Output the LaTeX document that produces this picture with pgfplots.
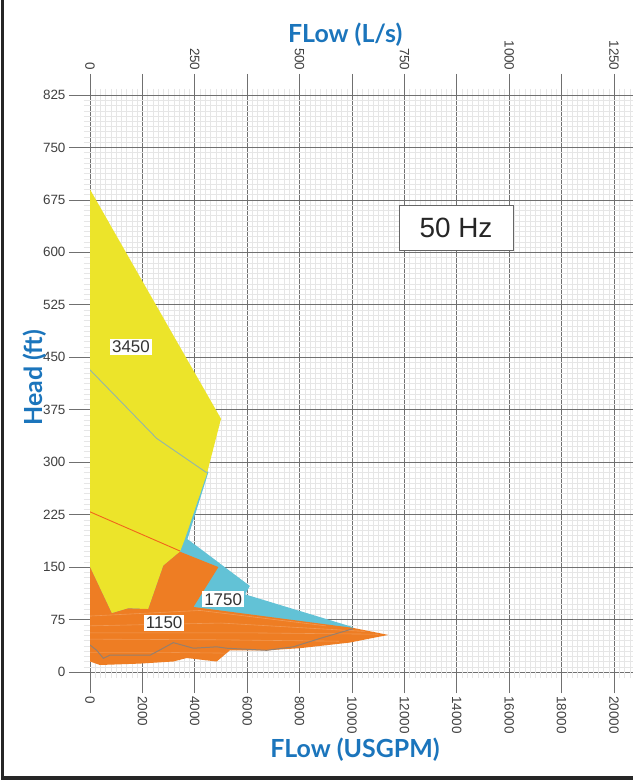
\documentclass[border=0pt]{standalone}
\usepackage{fontspec}
\setmainfont{Liberation Sans}
\newfontfamily\titlefont{Lato}
\usepackage{pgfplots}
\pgfplotsset{compat=1.18}
\pgfkeys{/pgf/number format/.cd, 1000 sep={}, assume math mode=true}
\definecolor{cyanc}{HTML}{62C2D6}
\definecolor{yel}{HTML}{ECE42A}
\definecolor{ora}{HTML}{EE7D23}
\definecolor{titleblue}{HTML}{1B75BC}
\definecolor{majgrid}{HTML}{707070}
\definecolor{mingrid}{HTML}{E6E6E6}
\definecolor{ticktext}{HTML}{404040}
\definecolor{innercyan}{HTML}{92B5AC}
\begin{document}
\begin{tikzpicture}
\useasboundingbox (0,0) rectangle (633bp,783bp);
\fill[white] (0,0) rectangle (633bp,783bp);
\draw[line width=3.5bp, color=black!85] (2.5bp,783bp) -- (2.5bp,5bp) -- (633bp,5bp);
\begin{axis}[
  at={(90bp,111bp)}, anchor=south west,
  width=543bp, height=577bp, scale only axis,
  xmin=0, xmax=20725, ymin=0, ymax=825,
  xtick={0,2000,...,22000}, ytick={0,75,...,825},
  scaled x ticks=false, scaled y ticks=false,
  minor x tick num=9, minor y tick num=9,
  grid=both,
  major grid style={color=majgrid, line width=0.7bp},
  minor grid style={color=mingrid, line width=0.45bp},
  axis line style={draw=none},
  tick align=outside,
  major tick length=21bp, minor tick length=6bp,
  every major tick/.append style={color=majgrid, line width=0.7bp},
  every minor tick/.append style={color=mingrid, line width=0.45bp},
  xtick pos=both, ytick pos=left,
  xticklabel={\pgfmathprintnumber[1000 sep={},assume math mode=true]{\tick}},
  yticklabel={\pgfmathprintnumber[1000 sep={},assume math mode=true]{\tick}},
  every tick label/.append style={font=\fontsize{13.5}{15}\selectfont, text=ticktext},
  xticklabel style={rotate=-90, anchor=west},
  xlabel={FLow (USGPM)},
  xlabel style={at={(axis description cs:0.488,-0.135)}, anchor=center, font=\titlefont\bfseries\fontsize{25}{28}\selectfont, text=titleblue},
  ylabel={Head (ft)},
  ylabel style={at={(axis description cs:-0.101,0.51)}, anchor=center, rotate=0, font=\titlefont\bfseries\fontsize{25}{28}\selectfont, text=titleblue},
  title={FLow (L/s)},
  title style={at={(axis description cs:0.47,1.094)}, anchor=center, font=\titlefont\bfseries\fontsize{25}{28}\selectfont, text=titleblue},
]
% 1750 rpm envelope (cyan)
\addplot[fill=cyanc, draw=none] coordinates {
  (0,432) (2545,334) (4520,286) (3720,190) (6100,123) (5920,111) (10050,64) (9000,48) (0,45)};
% 3450 rpm envelope (yellow)
\addplot[fill=yel, draw=none] coordinates {
  (0,690) (5000,362) (4450,282) (3620,190) (3435,172) (2800,152) (2225,90) (1460,91) (830,84) (0,150)};
% 1150 rpm envelope (orange)
\addplot[fill=ora, draw=none] coordinates {
  (0,150) (830,84) (1460,91) (2225,90) (2800,152) (3435,172) (4900,150) (3950,93)
  (10050,63) (11380,53) (9900,42) (8000,34) (6740,31) (5340,31) (4835,15) (3690,20)
  (3180,15) (1900,12) (380,10) (0,15)};
% faint overlapping 1150 curves inside the orange envelope
\addplot[color=white, opacity=0.22, line width=0.6bp] coordinates {(0,80) (4200,88) (9000,66)};
\addplot[color=white, opacity=0.22, line width=0.6bp] coordinates {(0,66) (5000,70) (10500,58)};
\addplot[color=white, opacity=0.22, line width=0.6bp] coordinates {(0,56) (6000,56) (11000,54)};
\addplot[color=white, opacity=0.22, line width=0.6bp] coordinates {(0,47) (5000,46) (9500,44)};
\addplot[color=white, opacity=0.18, line width=0.6bp] coordinates {(0,28) (3000,28) (5200,27)};
% curves
\addplot[color=innercyan, line width=0.9bp] coordinates {(0,432) (2545,334) (4450,285)};
\addplot[color=ora!80!red, line width=0.9bp] coordinates {(0,229) (3435,173)};
\addplot[color=gray!80!ora, line width=1bp] coordinates {
  (0,38.6) (255,31) (510,19.6) (760,24) (2290,24) (2545,29) (3180,42) (3945,34)
  (4835,36) (5215,34) (6740,31) (7760,36) (8780,48) (10050,62)};
% labels
\node[fill=white, inner sep=2bp, text=black!80, font=\fontsize{17}{19}\selectfont] at (axis cs:1565,465) {3450};
\node[fill=white, inner sep=2bp, text=black!80, font=\fontsize{17}{19}\selectfont] at (axis cs:5080,104) {1750};
\node[fill=white, inner sep=2bp, text=black!80, font=\fontsize{17}{19}\selectfont] at (axis cs:2830,70) {1150};
\node[fill=white, draw=black!60, line width=0.8bp, minimum width=114bp, minimum height=45bp, inner sep=0pt, text=black!85, font=\fontsize{28}{30}\selectfont] at (axis cs:13970,635) {50 Hz};
\end{axis}
\begin{axis}[
  at={(90bp,111bp)}, anchor=south west,
  width=543bp, height=577bp, scale only axis,
  xmin=0, xmax=1295.3, ymin=0, ymax=825,
  axis x line*=top, axis y line=none,
  axis line style={draw=none},
  xtick={0,250,...,1250},
  scaled x ticks=false,
  major tick length=0pt,
  xticklabel shift=21bp,
  xticklabel={\pgfmathprintnumber[1000 sep={},assume math mode=true]{\tick}},
  every tick label/.append style={font=\fontsize{13.5}{15}\selectfont, text=ticktext},
  xticklabel style={rotate=-90, anchor=east},
]
\end{axis}
\end{tikzpicture}
\end{document}
